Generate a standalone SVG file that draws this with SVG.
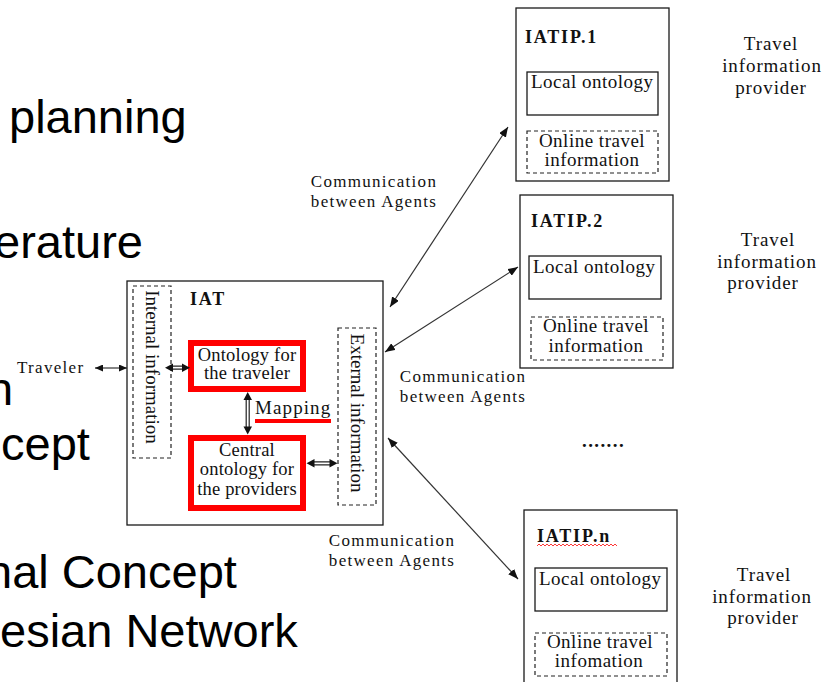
<svg xmlns="http://www.w3.org/2000/svg" width="830" height="682" viewBox="0 0 830 682">
<defs>
<style>
.big{font-family:"Liberation Sans",Arial,sans-serif;font-size:47px;fill:#000}
.lbl{font-family:"Liberation Serif","Times New Roman",serif;font-size:19px;letter-spacing:0.5px;fill:#111}
.rl{font-family:"Liberation Serif","Times New Roman",serif;font-size:18.5px;letter-spacing:0.2px;fill:#111}
.vt{font-family:"Liberation Serif","Times New Roman",serif;font-size:19px;fill:#111}
.sm{font-family:"Liberation Serif","Times New Roman",serif;font-size:17px;letter-spacing:1.3px;fill:#111}
.tp{font-family:"Liberation Serif","Times New Roman",serif;font-size:19px;letter-spacing:0.9px;fill:#111}
.ttl{font-family:"Liberation Serif","Times New Roman",serif;font-size:18px;font-weight:bold;letter-spacing:1.8px;fill:#111}
.box{fill:#fff;stroke:#1a1a1a;stroke-width:1.3}
.dash{fill:#fff;stroke:#222;stroke-width:1.2;stroke-dasharray:4 3}
.red{fill:#fff;stroke:#ff0000;stroke-width:6}
.conn{stroke:#333;stroke-width:1.2;fill:none}
.dbl{stroke:#222;stroke-width:1.2;fill:none}
.head{fill:#111}
</style>
<marker id="ah" viewBox="0 0 10 8" refX="10" refY="4" markerWidth="10" markerHeight="8" markerUnits="userSpaceOnUse" orient="auto-start-reverse"><path d="M0,0 L10,4 L0,8 z" fill="#111"/></marker>
<marker id="ahs" viewBox="0 0 8 7" refX="8" refY="3.5" markerWidth="8" markerHeight="7" markerUnits="userSpaceOnUse" orient="auto-start-reverse"><path d="M0,0 L8,3.5 L0,7 z" fill="#111"/></marker>
</defs>
<rect width="830" height="682" fill="#fff"/>

<g id="slide-text">
<text class="big" x="9" y="133">planning</text>
<text class="big" x="-6" y="258">erature</text>
<text class="big" x="-13" y="405">n</text>
<text class="big" x="1" y="460">cept</text>
<text class="big" x="-14" y="588">nal Concept</text>
<text class="big" x="0" y="647">esian Network</text>
</g>

<g id="traveler">
<text class="sm" x="17" y="373">Traveler</text>
</g>

<g id="IAT">
<rect class="box" x="127" y="281" width="256" height="244"/>
<text class="ttl" x="190" y="305">IAT</text>
</g>

<g id="internal-information">
<rect class="dash" x="133" y="286" width="38" height="172"/>
<text class="vt" transform="translate(152,367) rotate(90)" text-anchor="middle" dominant-baseline="central">Internal information</text>
</g>

<g id="ontology-traveler">
<rect class="red" x="191" y="343" width="112" height="46"/>
<text class="rl" x="247" y="361" text-anchor="middle">Ontology for</text>
<text class="rl" x="247" y="379" text-anchor="middle">the traveler</text>
</g>

<g id="central-ontology">
<rect class="red" x="191" y="438" width="112" height="70"/>
<text class="rl" x="247" y="456" text-anchor="middle">Central</text>
<text class="rl" x="247" y="475" text-anchor="middle">ontology for</text>
<text class="rl" x="247" y="495" text-anchor="middle">the providers</text>
</g>

<g id="mapping">
<text class="lbl" x="255" y="414" style="letter-spacing:1.1px">Mapping</text>
<rect x="255" y="419" width="76" height="4" fill="#ff0000"/>
</g>

<g id="external-information">
<rect class="dash" x="338" y="328" width="38" height="177"/>
<text class="vt" transform="translate(357,413) rotate(90)" text-anchor="middle" dominant-baseline="central">External information</text>
</g>

<g id="IATIP1">
<rect class="box" x="516" y="8" width="153" height="173"/>
<text class="ttl" x="525" y="43">IATIP.1</text>
<rect class="box" x="527" y="72" width="131" height="43"/>
<text class="lbl" x="531" y="88">Local ontology</text>
<rect class="dash" x="527" y="131" width="131" height="42"/>
<text class="lbl" x="592" y="147" text-anchor="middle">Online travel</text>
<text class="lbl" x="592" y="166" text-anchor="middle">information</text>
</g>

<g id="IATIP2">
<rect class="box" x="520" y="195" width="153" height="173"/>
<text class="ttl" x="531" y="227">IATIP.2</text>
<rect class="box" x="529" y="256" width="132" height="43"/>
<text class="lbl" x="533" y="273">Local ontology</text>
<rect class="dash" x="531" y="317" width="132" height="43"/>
<text class="lbl" x="596" y="332" text-anchor="middle">Online travel</text>
<text class="lbl" x="596" y="352" text-anchor="middle">information</text>
</g>

<g id="ellipsis">
<text class="lbl" x="582" y="447" style="font-weight:bold;letter-spacing:1.4px">.......</text>
</g>

<g id="IATIPn">
<rect class="box" x="524" y="510" width="153" height="173"/>
<text class="ttl" x="537" y="542">IATIP.n</text>
<path d="M537,546 l2,-2 l2,2 l2,-2 l2,2 l2,-2 l2,2 l2,-2 l2,2 l2,-2 l2,2 l2,-2 l2,2 l2,-2 l2,2 l2,-2 l2,2 l2,-2 l2,2 l2,-2 l2,2 l2,-2 l2,2 l2,-2 l2,2 l2,-2 l2,2 l2,-2 l2,2 l2,-2 l2,2 l2,-2 l2,2 l2,-2 l2,2 l2,-2 l2,2 l2,-2 l2,2 l2,-2 l2,2" fill="none" stroke="#ff2020" stroke-width="0.9"/>
<rect class="box" x="535" y="568" width="132" height="43"/>
<text class="lbl" x="539" y="585">Local ontology</text>
<rect class="dash" x="535" y="633" width="132" height="43"/>
<text class="lbl" x="600" y="648" text-anchor="middle">Online travel</text>
<text class="lbl" x="599" y="667" text-anchor="middle">infomation</text>
</g>

<g id="provider1">
<text class="tp" x="771" y="50" text-anchor="middle">Travel</text>
<text class="tp" x="772" y="72" text-anchor="middle">information</text>
<text class="tp" x="771" y="94" text-anchor="middle">provider</text>
</g>
<g id="provider2">
<text class="tp" x="768" y="246" text-anchor="middle">Travel</text>
<text class="tp" x="767" y="268" text-anchor="middle">information</text>
<text class="tp" x="763" y="289" text-anchor="middle">provider</text>
</g>
<g id="providern">
<text class="tp" x="764" y="581" text-anchor="middle">Travel</text>
<text class="tp" x="762" y="603" text-anchor="middle">information</text>
<text class="tp" x="763" y="624" text-anchor="middle">provider</text>
</g>

<g id="comm-labels">
<text class="sm" x="374" y="187" text-anchor="middle">Communication</text>
<text class="sm" x="374" y="207" text-anchor="middle">between Agents</text>
<text class="sm" x="463" y="382" text-anchor="middle">Communication</text>
<text class="sm" x="463" y="402" text-anchor="middle">between Agents</text>
<text class="sm" x="392" y="546" text-anchor="middle">Communication</text>
<text class="sm" x="392" y="566" text-anchor="middle">between Agents</text>
</g>

<g id="connectors">
<line class="conn" x1="95" y1="368" x2="127" y2="368" marker-start="url(#ahs)" marker-end="url(#ahs)"/>
<line class="conn" x1="390" y1="307" x2="508" y2="127" marker-start="url(#ah)" marker-end="url(#ah)"/>
<line class="conn" x1="385" y1="352" x2="518" y2="267" marker-start="url(#ah)" marker-end="url(#ah)"/>
<line class="conn" x1="388" y1="438" x2="518" y2="579" marker-start="url(#ah)" marker-end="url(#ah)"/>
<path class="dbl" d="M172,366.2 H183 M172,369.2 H183"/>
<polygon class="head" points="165,367.7 173,363.5 173,372"/>
<polygon class="head" points="190,367.7 182,363.5 182,372"/>
<path class="dbl" d="M246.2,399 V428 M249.2,399 V428"/>
<polygon class="head" points="247.7,392 243.5,400 252,400"/>
<polygon class="head" points="247.7,434.5 243.5,426.5 252,426.5"/>
<path class="dbl" d="M314,461.8 H330 M314,464.8 H330"/>
<polygon class="head" points="306.5,463.3 314.5,459 314.5,467.5"/>
<polygon class="head" points="337.5,463.3 329.5,459 329.5,467.5"/>
</g>
</svg>
